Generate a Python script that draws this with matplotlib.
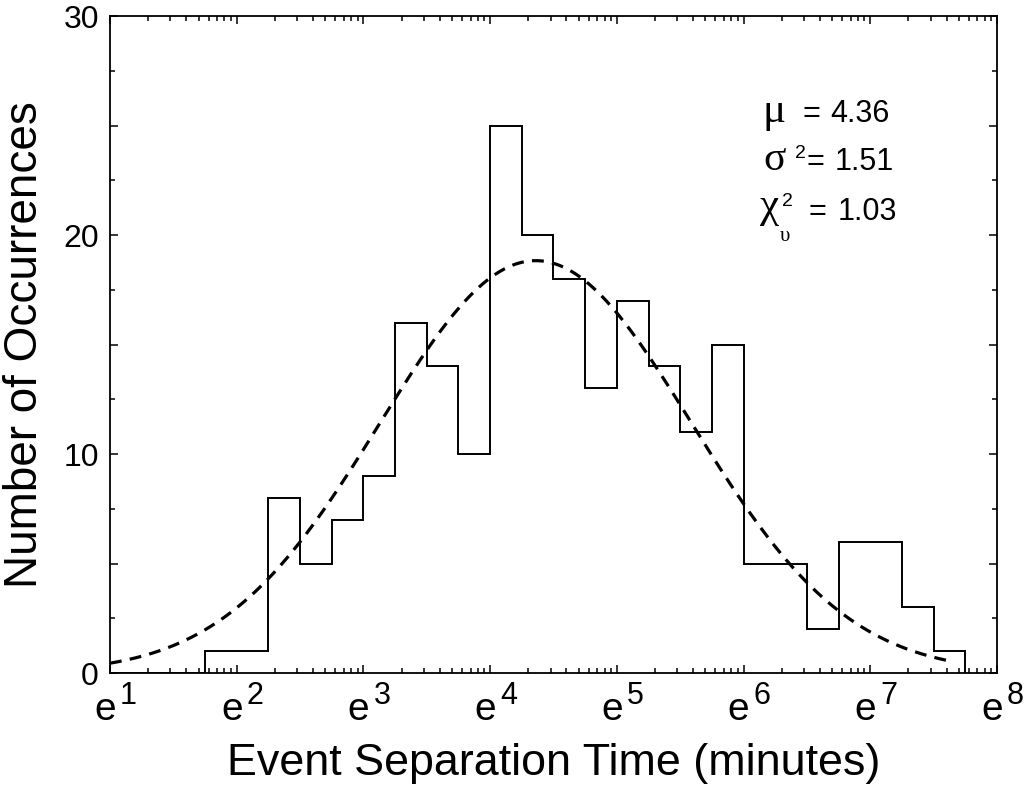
import numpy as np
import matplotlib
matplotlib.use("Agg")
import matplotlib.pyplot as plt
from matplotlib.ticker import FixedLocator, FuncFormatter, NullFormatter

# helvetica-like text everywhere
plt.rcParams['font.family'] = ['Liberation Sans', 'DejaVu Sans']

# histogram of ln(event separation time), bins of 0.25 in ln space
bin_edges = np.arange(1.0, 7.76, 0.25)
counts = [0, 0, 0, 1, 1, 8, 5, 7, 9, 16, 14, 10, 25, 20, 18, 13,
          17, 14, 11, 15, 5, 5, 2, 6, 6, 3, 1]

# fit parameters shown on the plot
mu = 4.36
sigma2 = 1.51
chi2_red = 1.03
fit_range = (1.0, 7.64)

xtick_pos = [1, 2, 3, 4, 5, 6, 7, 8]
ytick_labels = [0, 10, 20, 30]

W, H = 1031, 789
fig = plt.figure(figsize=(W / 100, H / 100), dpi=100)
ax = fig.add_axes([0.1067, 0.147, 0.8603, 0.8327])

#histogram as steps
ax.stairs(counts, bin_edges, color='black', linewidth=1.4, baseline=0)

#gaussian fit scaled to the number of events
n_events = np.sum(counts)
bw = bin_edges[1] - bin_edges[0]
xf = np.linspace(fit_range[0], fit_range[1], 400)
yf = n_events * bw / np.sqrt(2 * np.pi * sigma2) * np.exp(-(xf - mu) ** 2 / (2 * sigma2))
ax.plot(xf, yf, color='black', linewidth=2.3, linestyle=(0, (3.7, 2.6)))

ax.set_xlim(1, 8)
ax.set_ylim(0, 30)

#log style minor ticks inside each e^n interval
minor_x = [n + np.log10(k) for n in range(1, 8) for k in range(2, 10)]
ax.xaxis.set_major_locator(FixedLocator(xtick_pos))
ax.xaxis.set_minor_locator(FixedLocator(minor_x))
ax.xaxis.set_major_formatter(NullFormatter())

ax.yaxis.set_major_locator(FixedLocator([0, 5, 10, 15, 20, 25, 30]))
ax.yaxis.set_minor_locator(FixedLocator([2.5, 7.5, 12.5, 17.5, 22.5, 27.5]))
ax.yaxis.set_major_formatter(FuncFormatter(lambda v, p: '%d' % v if v in ytick_labels else ''))

ax.tick_params(which='both', direction='in', top=True, right=True, width=1.1)
ax.tick_params(which='major', length=5.5)
ax.tick_params(which='minor', length=3.5)
ax.tick_params(axis='y', which='major', labelsize=23, pad=8)
for s in ax.spines.values():
    s.set_linewidth(1.3)

# e^n tick labels: big e with a raised exponent, as in the original
for n in xtick_pos:
    ax.annotate('e', xy=(n, 0), xycoords=('data', 'axes fraction'),
                xytext=(-5, -47), textcoords='offset pixels',
                ha='center', va='baseline', fontsize=28, annotation_clip=False)
    ax.annotate(str(n), xy=(n, 0), xycoords=('data', 'axes fraction'),
                xytext=(10, -31), textcoords='offset pixels',
                ha='left', va='baseline', fontsize=22, annotation_clip=False)

ax.set_xlabel('Event Separation Time (minutes)', fontsize=32.3, va='baseline')
ax.xaxis.set_label_coords(0.5, (673 - 775) / 657)
ax.set_ylabel('Number of Occurrences', fontsize=33, labelpad=12)

# fit results, built piece by piece (pixel positions, baseline aligned)
def ptext(x, y, s, size, serif=False):
    fam = ['Liberation Serif', 'DejaVu Serif'] if serif else ['Liberation Sans', 'DejaVu Sans']
    fig.text(x / W, 1 - y / H, s, fontsize=size, family=fam, va='baseline', ha='left')

ptext(762, 122, '\u03bc', 31, serif=True)
ptext(802, 122, '=', 22)
ptext(830, 122, '%.2f' % mu, 22)

ptext(763, 170, '\u03c3', 30, serif=True)
ptext(795, 158, '2', 14)
ptext(807, 170, '=', 22)
ptext(835, 170, '%.2f' % sigma2, 22)

ptext(760, 217, '\u03c7', 31, serif=True)
ptext(782, 206, '2', 14)
ptext(780, 241, '\u03c5', 15, serif=True)
ptext(808, 220, '=', 22)
ptext(838, 220, '%.2f' % chi2_red, 22)

fig.savefig('out.png', dpi=100)
